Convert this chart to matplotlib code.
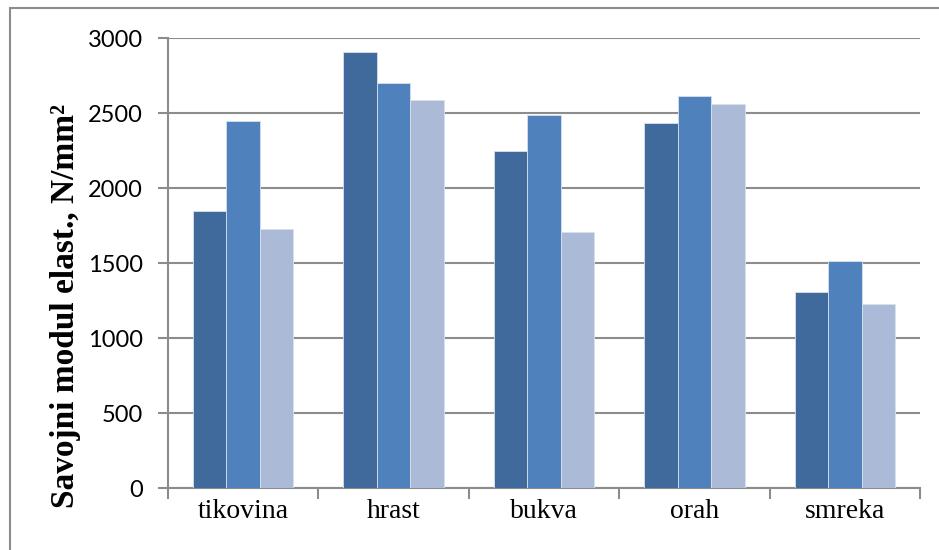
import numpy as np
import matplotlib.pyplot as plt
from matplotlib.patches import Rectangle

categories = ["tikovina", "hrast", "bukva", "orah", "smreka"]
series_a = [1850, 2910, 2250, 2435, 1305]
series_b = [2450, 2700, 2490, 2615, 1515]
series_c = [1730, 2590, 1710, 2560, 1225]
colors = ["#40699C", "#4F81BD", "#AABAD7"]
yticks = [0, 500, 1000, 1500, 2000, 2500, 3000]

fig = plt.figure(figsize=(9.39, 5.5), dpi=100)
ax = fig.add_axes([0.1789, 0.1127, 0.801, 0.8182])

# chart area border (only top/left edges are visible in the picture)
fig.patches.append(Rectangle((10/939, -0.1), 1.2, 1.1 - 8/550, transform=fig.transFigure,
                             fill=False, edgecolor="#8C8C8C", linewidth=1.5))

x = np.arange(len(categories))
w = 1/4.5
for i, vals in enumerate([series_a, series_b, series_c]):
    ax.bar(x + (i - 1)*w, vals, width=w, color=colors[i], edgecolor="#D8E0EC",
           linewidth=0.6, zorder=3)

ax.set_xlim(-0.5, len(categories) - 0.5)
ax.set_ylim(0, 3000)
ax.set_yticks(yticks)
ax.set_yticklabels([str(v) for v in yticks], family="Lato", fontsize=17)
ax.yaxis.grid(True, color="#8C8C8C", linewidth=1.5, zorder=0)
ax.tick_params(axis="y", length=7, width=1.5, color="#8C8C8C", pad=11)

ax.set_xticks(x)
ax.set_xticklabels(categories, family="Liberation Serif", fontsize=20)
ax.set_xticks(np.arange(-0.5, len(categories)), minor=True)
ax.tick_params(axis="x", which="major", length=0, pad=8)
ax.tick_params(axis="x", which="minor", length=8, width=1.5, color="#8C8C8C")

for s in ["top", "right"]:
    ax.spines[s].set_visible(False)
for s in ["left", "bottom"]:
    ax.spines[s].set_color("#8C8C8C")
    ax.spines[s].set_linewidth(1.5)

fig.text(66/939, 1 - 306/550, "Savojni modul elast., N/mm²", family="Liberation Serif",
         fontsize=24, fontweight="bold", rotation=90, ha="center", va="center")

fig.savefig("out.png", dpi=100)
